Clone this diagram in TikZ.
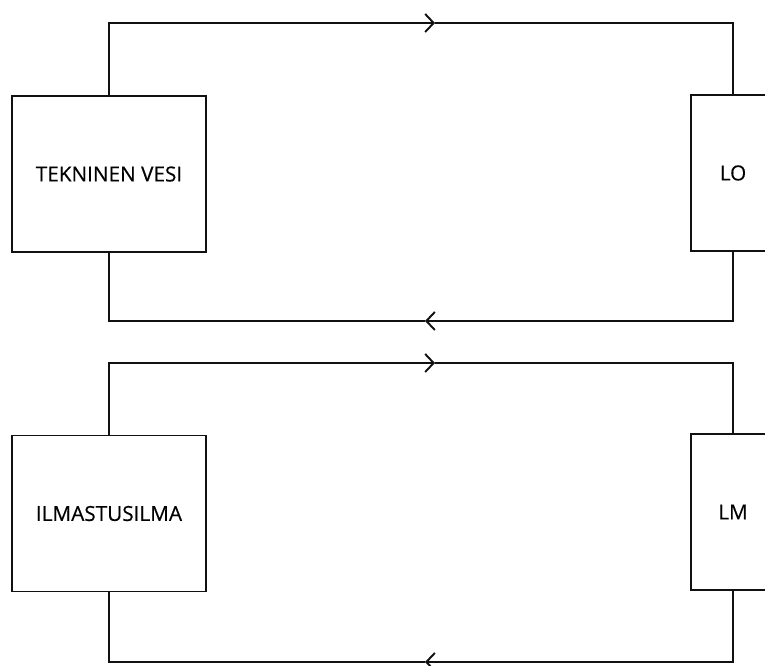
\documentclass[tikz,border=0pt]{standalone}
\usepackage{fontspec}
\setmainfont{Open Sans}
\newfontfamily\boxfont[FakeBold=0.35]{Open Sans}
\usepackage{xcolor}
\usetikzlibrary{arrows.meta, positioning}
\definecolor{kline}{HTML}{111111}
\tikzset{
  unitbox/.style={draw=kline, fill=white, line width=1.1pt,
                  minimum width=3.88cm, minimum height=3.12cm,
                  align=center, font=\boxfont\fontsize{11.8}{14}\selectfont, inner sep=0pt},
  sidebox/.style={draw=kline, fill=white, line width=1.1pt,
                  minimum width=1.68cm, minimum height=3.12cm,
                  align=center, font=\boxfont\fontsize{11.8}{14}\selectfont, inner sep=0pt},
  pipe/.style={draw=kline, line width=1.1pt},
  flow/.style={pipe, -{Straight Barb[length=0.17cm, width=0.36cm, line width=1.1pt]}},
}

\begin{document}
\begin{tikzpicture}[x=1cm, y=1cm]

  \useasboundingbox (0,0) rectangle (15.3,13.32);
  \clip (0,0) rectangle (15.3,13.32);

  % upper loop
  \node[unitbox] (tv) at (2.18,9.84) {TEKNINEN VESI};
  \node[sidebox] (lo) at (14.66,9.86) {LO};
  \coordinate (tvflow) at (8.70,12.86);
  \coordinate (tvret) at (8.50,6.90);

  \draw[flow] (tv.north) |- (tvflow);
  \draw[pipe] (tvflow) -| (lo.north);
  \draw[flow] (lo.south) |- (tvret);
  \draw[pipe] (tvret) -| (tv.south);

  % lower loop
  \node[unitbox] (ia) at (2.18,3.05) {ILMASTUSILMA};
  \node[sidebox] (lm) at (14.66,3.08) {LM};
  \coordinate (iaflow) at (8.70,6.06);
  \coordinate (iaret) at (8.50,0.08);

  \draw[flow] (ia.north) |- (iaflow);
  \draw[pipe] (iaflow) -| (lm.north);
  \draw[flow] (lm.south) |- (iaret);
  \draw[pipe] (iaret) -| (ia.south);

\end{tikzpicture}
\end{document}
